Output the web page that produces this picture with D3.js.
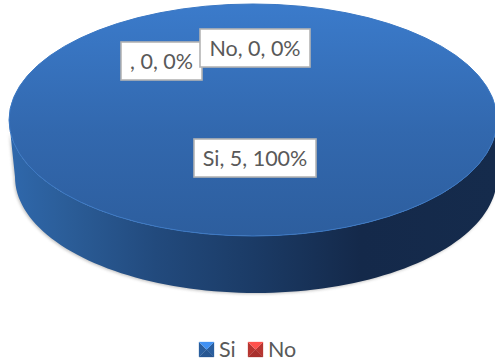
<!DOCTYPE html>
<html><head><meta charset="utf-8">
<script src="https://cdn.jsdelivr.net/npm/d3@7"></script>
<style>html,body{margin:0;background:#fff;overflow:hidden}svg{display:block}</style>
</head><body><svg width="495" height="362"></svg>
<script>
const categories = ["Si", "No", ""];
const values = [5, 0, 0];
const percents = ["100%", "0%", "0%"];
const legendItems = ["Si", "No"];
const seriesColors = {Si: "#2F69B0", No: "#CC3B37"};

const svg = d3.select("svg");
const cx = 253, cy = 120, rx = 244, ry = 116, depth = 57, baseCx = 256, baseRx = 241;
const font = "Lato, 'Open Sans', sans-serif";

const defs = svg.append("defs");
function grad(id, horizontal, stops){
  const g = defs.append("linearGradient").attr("id", id)
    .attr("x1","0").attr("y1","0").attr("x2",horizontal?"1":"0").attr("y2",horizontal?"0":"1");
  stops.forEach(([o,c]) => g.append("stop").attr("offset",o).attr("stop-color",c));
}
grad("top", false, [[0,"#3B7BCB"],[0.55,"#3268AE"],[1,"#2D5E9E"]]);
grad("side", true, [[0,"#2F68AC"],[0.12,"#2B5D98"],[0.3,"#224A7D"],[0.5,"#1B3B66"],[0.72,"#14294A"],[1,"#152B4C"]]);
const blur = defs.append("filter").attr("id","soft").attr("x","-5%").attr("y","-5%").attr("width","110%").attr("height","110%");
blur.append("feGaussianBlur").attr("stdDeviation",1.5);

const pie = d3.pie().sort(null).value(d => d)(values);
const R = 100;
const arc = d3.arc().innerRadius(0).outerRadius(R);

// side wall: top rim's lower half, then the slightly narrower base rim
const angles = d3.range(0, Math.PI + 0.01, Math.PI / 90);
const rim = angles.map(a => [cx + rx * Math.cos(a), cy + ry * Math.sin(a)]);
const base = angles.map(a => [baseCx + baseRx * Math.cos(a), cy + depth + ry * Math.sin(a)]).reverse();
const sidePath = d3.line()(rim.concat(base)) + "Z";
svg.append("path").attr("d", sidePath).attr("fill","#666").attr("opacity",0.4).attr("filter","url(#soft)").attr("transform","translate(-1,1)");
svg.append("path").attr("d", sidePath).attr("fill","url(#side)");

const disc = svg.append("g").attr("transform", `translate(${cx},${cy}) scale(${rx / R},${ry / R})`);
disc.selectAll("path.slice").data(pie).join("path").attr("class","slice")
  .attr("d", arc).attr("fill","url(#top)");
disc.append("circle").attr("r", R).attr("fill","none").attr("stroke","#3B78C4")
  .attr("stroke-width",1).attr("vector-effect","non-scaling-stroke");

// data labels
const labelPos = [
  {x: 255, y: 158, w: 122, h: 38},
  {x: 255, y: 48, w: 110, h: 38},
  {x: 161.5, y: 61, w: 81, h: 38}
];
const labels = svg.append("g");
[2, 1, 0].forEach(i => {
  const lp = labelPos[i];
  const g = labels.append("g").attr("transform",`translate(${lp.x},${lp.y})`);
  g.append("rect").attr("x",-lp.w/2).attr("y",-lp.h/2).attr("width",lp.w).attr("height",lp.h)
    .attr("fill","#fff").attr("stroke","#B4B4B4").attr("stroke-width",1.6);
  g.append("text").attr("text-anchor","middle").attr("y",7.5)
    .attr("font-family",font).attr("font-size",21.5).attr("fill","#595959")
    .text(`${categories[i]}, ${values[i]}, ${percents[i]}`);
});

// legend
const legendX = d3.scaleOrdinal().domain(legendItems).range([199, 248]);
const ls = 15, ly = 342;
const legend = svg.append("g");
legendItems.forEach(name => {
  const x = legendX(name), c = seriesColors[name];
  const g = legend.append("g").attr("transform",`translate(${x},${ly})`);
  const tri = (pts,fill) => g.append("path").attr("d", d3.line()(pts)).attr("fill",fill).attr("stroke",fill).attr("stroke-width",0.3);
  const m = [ls/2, ls/2];
  tri([[0,0],[0,ls],m], d3.color(c).darker(0.3).formatHex());
  tri([[ls,0],[ls,ls],m], d3.color(c).darker(0.3).formatHex());
  tri([[0,ls],[ls,ls],m], d3.color(c).darker(0.55).formatHex());
  tri([[0,0],[ls,0],m], d3.color(c).brighter(0.9).formatHex());
  g.append("text").attr("x", ls + 5).attr("y", 15)
    .attr("font-family",font).attr("font-size",21.5).attr("fill","#595959").text(name);
});
</script></body></html>
